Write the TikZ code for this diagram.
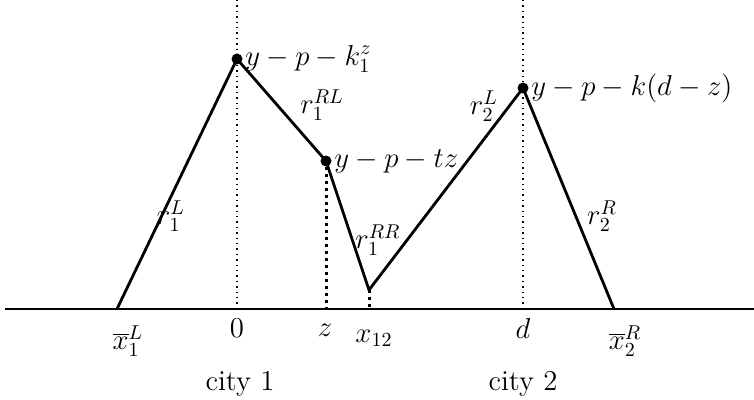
\documentclass[tikz,border=0pt]{standalone}
\usetikzlibrary{positioning,calc}

\begin{document}
\begin{tikzpicture}[
  x=0.5pt, y=-0.5pt,
  font=\Large,
  rent/.style={line width=1.4pt},
  axis/.style={line width=1pt},
  guide/.style={dotted, line width=0.7pt},
  drop/.style={dotted, line width=1.5pt},
  dot/.style={circle, fill, inner sep=0pt, minimum size=5.5pt},
  lbl/.style={inner sep=1pt}
]
\useasboundingbox (0,0) rectangle (754,400);
% axis and the two city centres
\coordinate (ax0) at (5,309);
\coordinate (ax1) at (754,309);
\draw[axis] (ax0) -- (ax1);
\coordinate (top1) at (237,0);
\coordinate (top2) at (523,0);
\node[dot] (p1) at (237,59) {};
\node[dot] (pz) at (326,161) {};
\node[dot] (p2) at (523,88) {};
\coordinate (xl) at (117,309);
\coordinate (xr) at (614,309);
\coordinate (xm) at (369,290);
\coordinate (b0) at (237,309);
\coordinate (bz) at (326,309);
\coordinate (bm) at (369,309);
\coordinate (bd) at (523,309);
\draw[guide] (top1) -- (b0);
\draw[guide] (top2) -- (bd);
\draw[drop] (pz) -- (bz);
\draw[drop] (xm) -- (bm);
% bid-rent curves
\draw[rent] (xl) -- (p1.center) -- (pz.center) -- (xm) -- (p2.center) -- (xr);
% labels at the peaks
\node[lbl, right=0pt of p1] (lp1) {$y-p-k_1^z$};
\node[lbl, right=0pt of pz] (lpz) {$y-p-tz$};
\node[lbl, right=0pt of p2] (lp2) {$y-p-k(d-z)$};
% labels on the segments
\node[lbl] (r1l) at (171,216) {$r_1^L$};
\node[lbl] (r1rl) at (322,105) {$r_1^{RL}$};
\node[lbl] (r1rr) at (378,240) {$r_1^{RR}$};
\node[lbl] (r2l) at (484,106) {$r_2^L$};
\node[lbl] (r2r) at (602,216) {$r_2^R$};
% labels under the axis
\node[lbl] (lxl) at (128,341) {$\overline{x}_1^L$};
\node[lbl] (l0) at (237,328) {$0$};
\node[lbl] (lz) at (325,330) {$z$};
\node[lbl] (lxm) at (374,338) {$x_{12}$};
\node[lbl] (ld) at (523,328) {$d$};
\node[lbl] (lxr) at (625,341) {$\overline{x}_2^R$};
\node[lbl] (c1) at (240,384) {city 1};
\node[lbl] (c2) at (523,384) {city 2};
\end{tikzpicture}
\end{document}
